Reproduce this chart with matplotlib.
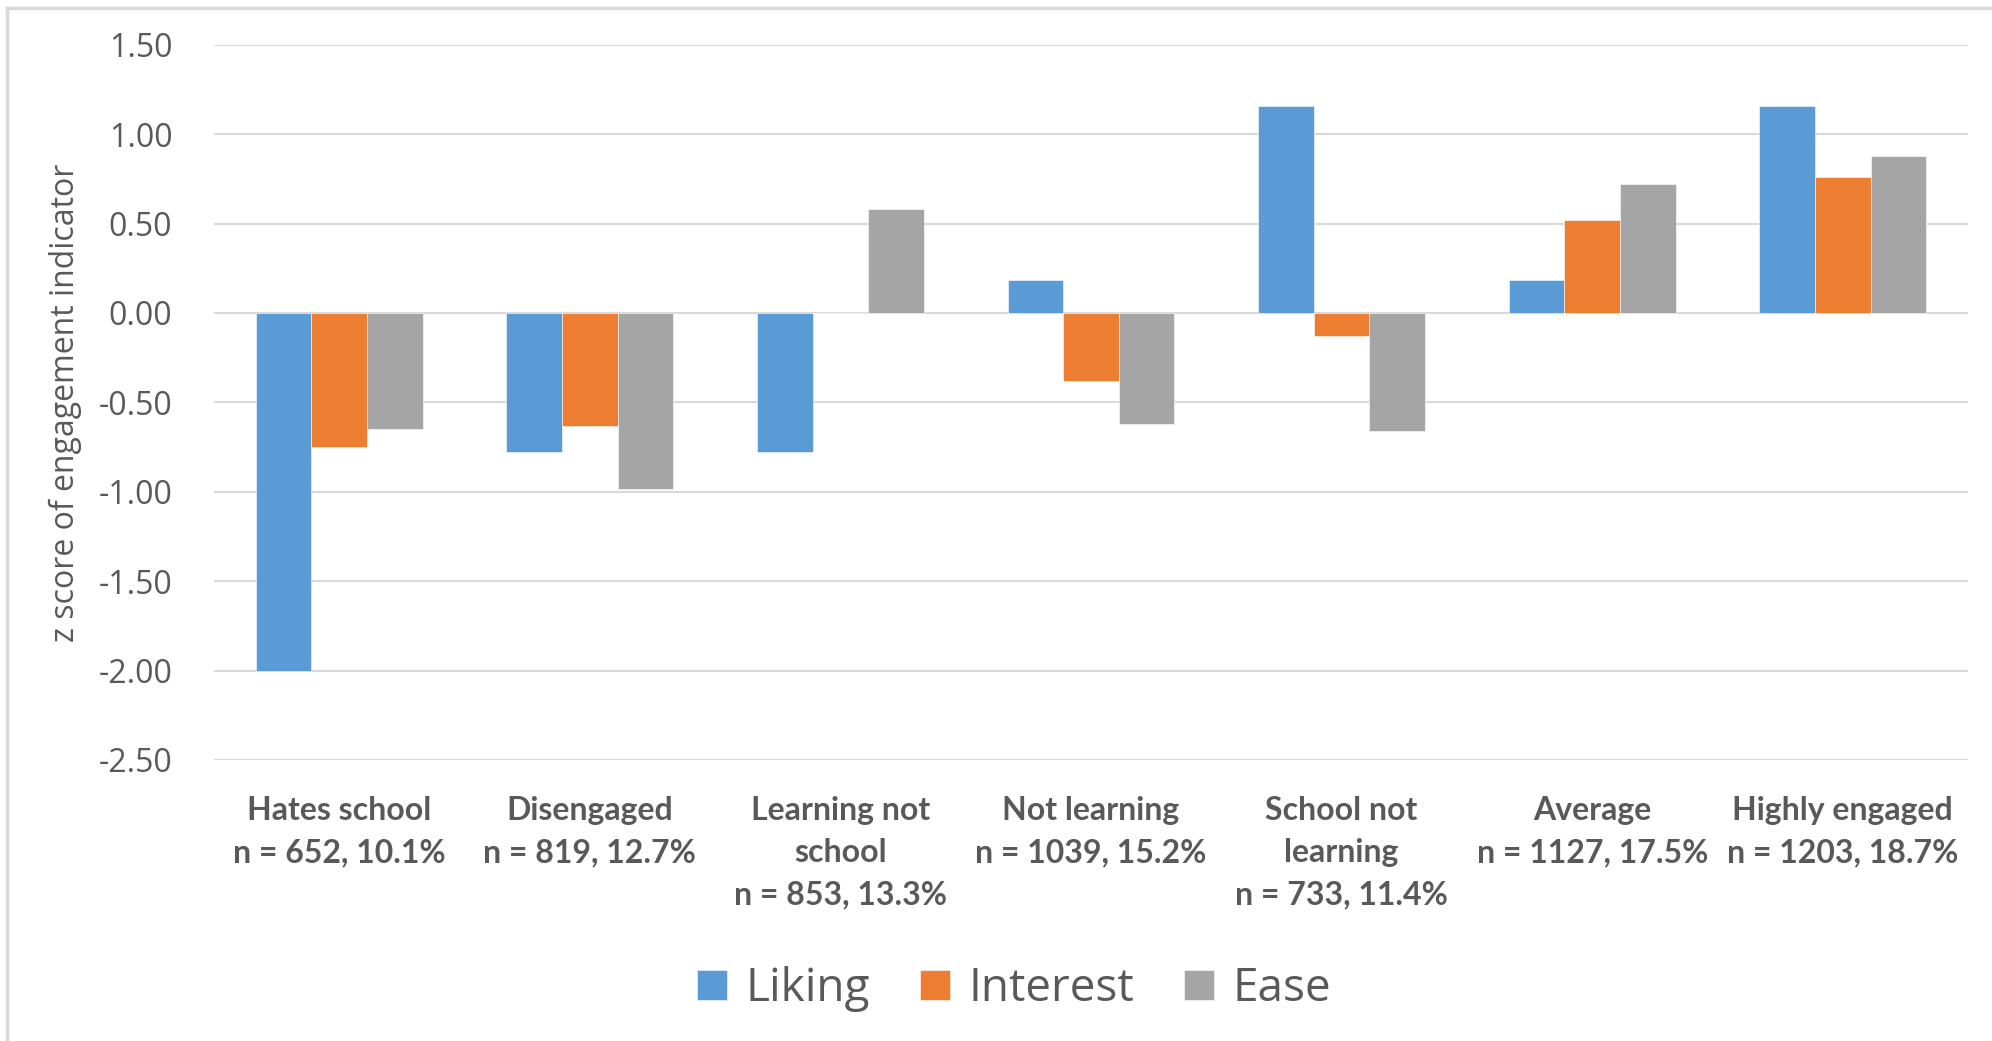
import matplotlib
matplotlib.use("Agg")
import matplotlib.pyplot as plt
from matplotlib.lines import Line2D
import numpy as np

categories = ["Hates school\nn = 652, 10.1%", "Disengaged\nn = 819, 12.7%",
              "Learning not\nschool\nn = 853, 13.3%", "Not learning\nn = 1039, 15.2%",
              "School not\nlearning\nn = 733, 11.4%", "Average\nn = 1127, 17.5%",
              "Highly engaged\nn = 1203, 18.7%"]
liking = [-2.00, -0.78, -0.78, 0.185, 1.16, 0.185, 1.16]
interest = [-0.75, -0.63, 0.0, -0.38, -0.13, 0.52, 0.76]
ease = [-0.65, -0.985, 0.58, -0.62, -0.66, 0.72, 0.88]
series_names = ["Liking", "Interest", "Ease"]
colors = ["#5B9BD5", "#ED7D31", "#A5A5A5"]
yticks = [1.5, 1.0, 0.5, 0.0, -0.5, -1.0, -1.5, -2.0, -2.5]

plt.rcParams["axes.unicode_minus"] = False
txt = "#595959"

fig = plt.figure(figsize=(19.92, 10.41), dpi=100)
ax = fig.add_axes([0.1074, 0.270, 0.8806, 0.687])

x = np.arange(len(categories))
w = 0.222
for i, (vals, name) in enumerate(zip([liking, interest, ease], series_names)):
    ax.bar(x + (i - 1) * w, vals, w, color=colors[i], label=name, zorder=3,
           edgecolor="white", linewidth=0.4)

ax.set_xlim(-0.5, len(categories) - 0.5)
ax.set_ylim(-2.5, 1.5)
ax.set_yticks(yticks)
ax.set_yticklabels(["%.2f" % v for v in yticks], fontsize=23, color=txt,
                   family=["Open Sans", "DejaVu Sans"])
ax.set_xticks(x)
ax.set_xticklabels(categories, fontsize=23, color=txt, fontweight="bold",
                   family=["Liberation Sans Narrow", "Lato", "DejaVu Sans"],
                   linespacing=1.55, va="top")
ax.tick_params(axis="both", length=0)
ax.tick_params(axis="x", pad=26)
ax.tick_params(axis="y", pad=30)
ax.grid(axis="y", color="#d9d9d9", linewidth=1.5, zorder=0)
for s in ax.spines.values():
    s.set_visible(False)

ax.set_ylabel("z score of engagement indicator", fontsize=23, color=txt,
              family=["Open Sans", "DejaVu Sans"], labelpad=12)

leg = fig.legend(loc="center", bbox_to_anchor=(0.509, 0.05), ncol=3, frameon=False,
                 prop={"family": "Open Sans", "size": 33}, handlelength=0.65,
                 handleheight=0.65, handletextpad=0.4, columnspacing=1.1)
for t in leg.get_texts():
    t.set_color(txt)

# outer chart border (top and left visible)
fig.add_artist(Line2D([0.0035, 1.0], [0.992, 0.992], color="#d9d9d9", linewidth=2.5,
                      transform=fig.transFigure))
fig.add_artist(Line2D([0.0035, 0.0035], [0.0, 0.992], color="#d9d9d9", linewidth=2.5,
                      transform=fig.transFigure))

fig.savefig("out.png", dpi=100, facecolor="white")
